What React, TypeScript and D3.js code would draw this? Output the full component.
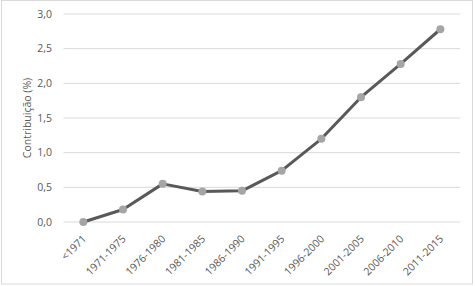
import React from 'react';
import * as d3 from 'd3';

const periods = ['<1971', '1971-1975', '1976-1980', '1981-1985', '1986-1990', '1991-1995', '1996-2000', '2001-2005', '2006-2010', '2011-2015'];
const contribution = [0.0, 0.18, 0.55, 0.44, 0.45, 0.74, 1.2, 1.8, 2.28, 2.78];
const yTicks = [0, 0.5, 1, 1.5, 2, 2.5, 3];

const App = () => {
  const width = 475;
  const height = 286;
  const left = 63.5;
  const right = 460.2;
  const top = 14;
  const bottom = 222;

  const x = d3.scalePoint<string>().domain(periods).range([left, right]).padding(0.5);
  const y = d3.scaleLinear().domain([0, 3]).range([bottom, top]);

  const line = d3
    .line<number>()
    .x((_, i) => x(periods[i]) as number)
    .y((d) => y(d));

  const fmt = (v: number) => v.toFixed(1).replace('.', ',');
  const textColor = '#595959';
  const font = '"Open Sans", "Liberation Sans", sans-serif';

  return (
    <svg width={width} height={height} style={{ position: 'absolute', left: 0, top: 0 }} fontFamily={font}>
      <rect x={1.5} y={0.5} width={471} height={283.5} fill="#fff" stroke="#d9d9d9" />

      {/* gridlines and y labels */}
      {yTicks.map((t) => (
        <g key={t}>
          <line x1={left} x2={right} y1={y(t)} y2={y(t)} stroke="#d9d9d9" strokeWidth={1} />
          <text x={52} y={y(t)} dy="0.35em" textAnchor="end" fontSize={10.5} fill={textColor}>
            {fmt(t)}
          </text>
        </g>
      ))}

      {/* axis title */}
      <text
        transform={`translate(27, ${(top + bottom) / 2}) rotate(-90)`}
        textAnchor="middle"
        dy="0.35em"
        fontSize={10.5}
        fill={textColor}
      >
        Contribuição (%)
      </text>

      {/* x labels, rotated 45deg */}
      {periods.map((p) => (
        <text
          key={p}
          transform={`translate(${(x(p) as number) + 1}, ${bottom + 15}) rotate(-45)`}
          textAnchor="end"
          dy="0.35em"
          fontSize={10.5}
          fill={textColor}
        >
          {p}
        </text>
      ))}

      <path d={line(contribution) ?? ''} fill="none" stroke="#595959" strokeWidth={3} strokeLinejoin="round" />
      {contribution.map((v, i) => (
        <circle key={periods[i]} cx={x(periods[i]) as number} cy={y(v)} r={4} fill="#a5a5a5" />
      ))}
    </svg>
  );
};

export default App;
